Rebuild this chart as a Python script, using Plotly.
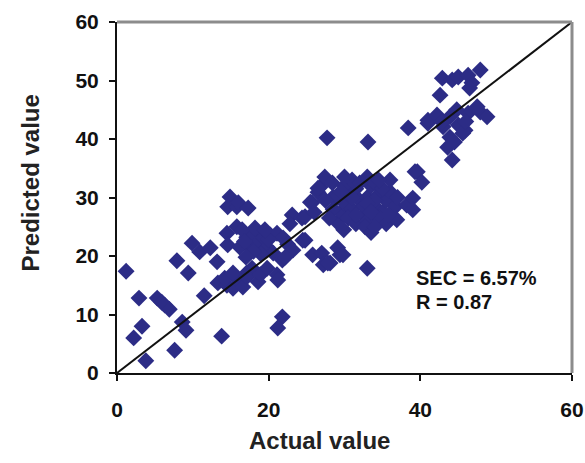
import plotly.graph_objects as go

# Actual (x) and predicted (y) values
actual = [
    1.2, 2.9, 3.3, 2.2, 3.8, 5.3, 5.9, 6.3, 6.9, 7.9, 9.4, 7.6, 8.6, 9.1, 11.5, 13.8,
    9.9, 10.9, 12.3, 13.2, 13.3, 14.5, 15.3, 16.0, 16.6, 17.1, 17.8, 14.2, 15.3, 17.1,
    18.6, 18.9, 19.8, 21.1, 21.2, 21.8, 21.2,
    14.9, 14.6, 15.8, 16.0, 17.3, 14.5, 15.8, 14.6, 16.2, 17.1, 17.9, 17.5, 18.5, 19.3,
    20.2, 21.1, 21.9, 19.8, 20.6, 21.8, 16.5, 18.2, 19.0, 18.0, 16.8, 20.0, 22.5, 19.5, 17.0,
    23.1, 24.4, 25.7, 26.5, 24.8, 23.2, 25.8, 27.0, 27.2, 28.1, 29.1, 29.4, 26.8, 28.5,
    27.8, 29.8, 33.0, 22.2, 24.5, 25.5, 24.8, 22.8, 26.0, 27.4, 26.5, 28.4, 27.7, 33.1,
    29.0, 29.5, 30.0, 30.5, 31.0, 31.5, 32.0, 32.5, 33.0, 33.5, 34.0, 34.5, 35.0, 35.5,
    36.0, 30.0, 31.0, 32.0, 33.0, 34.0, 29.0, 28.5, 30.5, 31.5, 33.0, 34.5, 35.5, 32.7,
    36.7, 38.2, 39.0, 39.0, 36.9, 33.5, 34.0, 31.0, 32.5, 34.0, 35.0, 36.0, 29.5, 30.0,
    33.0, 35.8, 37.0, 28.0, 27.5, 33.5, 31.5, 29.9, 34.5,
    38.4, 41.0, 39.6, 40.2, 39.3, 42.9, 44.2, 45.0, 46.3, 46.8, 47.9, 46.5, 42.6, 41.0,
    42.2, 43.9, 46.3, 47.9, 48.8, 45.9, 43.0, 43.9, 43.6, 44.2, 42.9, 45.0, 45.6, 44.5,
    47.5, 44.8, 46.0,
]
predicted = [
    17.4, 12.8, 8.0, 6.0, 2.1, 12.8, 12.1, 11.6, 10.9, 19.2, 17.1, 3.9, 8.7, 7.3, 13.2, 6.3,
    22.2, 20.7, 21.4, 19.0, 15.4, 15.0, 14.5, 15.9, 14.7, 17.1, 17.9, 16.2, 17.1, 16.4,
    15.6, 16.8, 17.9, 16.8, 15.9, 9.6, 7.7,
    30.1, 28.4, 28.4, 29.1, 28.2, 23.9, 25.0, 21.9, 21.5, 23.2, 23.9, 21.5, 22.2, 23.2,
    23.6, 23.9, 23.1, 21.5, 20.5, 19.3, 24.5, 24.8, 20.3, 20.8, 22.5, 22.8, 22.0, 24.5, 19.8,
    27.0, 26.5, 29.1, 30.9, 22.7, 21.0, 20.2, 20.5, 18.5, 18.8, 21.4, 20.2, 31.8, 30.1,
    18.8, 20.2, 17.9, 19.8, 22.7, 29.2, 26.7, 25.5, 27.5, 33.5, 31.6, 32.5, 40.2, 39.5,
    25.8, 27.5, 29.0, 30.5, 28.0, 31.5, 29.5, 27.0, 30.0, 32.0, 28.5, 30.5, 27.5, 29.5,
    31.0, 32.0, 33.0, 32.5, 33.5, 32.5, 30.0, 28.0, 26.5, 25.5, 26.0, 26.5, 25.5, 25.0,
    28.4, 28.7, 29.9, 27.9, 26.2, 24.0, 25.0, 30.0, 28.5, 29.5, 31.5, 33.0, 31.0, 33.5,
    29.0, 27.0, 30.0, 26.5, 29.5, 27.5, 27.0, 24.5, 33.0,
    41.9, 42.7, 34.4, 32.6, 34.4, 50.4, 50.1, 50.6, 50.9, 49.6, 51.8, 48.7, 47.5, 43.2,
    44.1, 43.8, 44.4, 44.6, 43.8, 41.5, 42.1, 40.3, 38.6, 36.4, 42.9, 42.4, 41.0, 39.5,
    45.5, 45.0, 43.0,
]
line_x = [0, 60]
line_y = [0, 60]
tick_vals_x = [0, 20, 40, 60]
tick_vals_y = [0, 10, 20, 30, 40, 50, 60]
stats_text = ["SEC = 6.57%", "R = 0.87"]
x_title = "Actual value"
y_title = "Predicted value"

fig = go.Figure()
fig.add_trace(go.Scatter(
    x=actual, y=predicted, mode="markers",
    marker=dict(symbol="diamond", size=13, color="#2C2C86", line=dict(width=0)),
    showlegend=False,
))
fig.add_trace(go.Scatter(
    x=line_x, y=line_y, mode="lines",
    line=dict(color="#111111", width=2), showlegend=False,
))

font_b = "Liberation Sans, Arial, sans-serif"
fig.update_layout(
    width=585, height=463,
    margin=dict(l=117, r=13, t=22, b=90, autoexpand=False),
    paper_bgcolor="white", plot_bgcolor="white",
    font=dict(family=font_b, color="#111111"),
    xaxis=dict(
        range=[0, 60], tickvals=tick_vals_x, showgrid=False, zeroline=False,
        showline=True, linecolor="#111111", linewidth=2, automargin=False,
        ticks="outside", ticklen=6, tickwidth=2, tickcolor="#111111",
        tickfont=dict(size=21, family=font_b, weight="bold"),
        ticklabelstandoff=11,
    ),
    yaxis=dict(
        range=[0, 60], tickvals=tick_vals_y, showgrid=False, zeroline=False,
        showline=True, linecolor="#111111", linewidth=2, automargin=False,
        ticks="outside", ticklen=6, tickwidth=2, tickcolor="#111111",
        tickfont=dict(size=21, family=font_b, weight="bold"),
        ticklabelstandoff=6,
    ),
    shapes=[
        dict(type="line", xref="paper", yref="paper", x0=0, x1=1, y0=1, y1=1,
             line=dict(color="#8C8C8C", width=3)),
        dict(type="line", xref="paper", yref="paper", x0=1, x1=1, y0=0, y1=1,
             line=dict(color="#8C8C8C", width=3)),
    ],
    annotations=[
        dict(x=39.1, y=16.3, xref="x", yref="y", text="<b>%s</b>" % stats_text[0],
             showarrow=False, xanchor="left", font=dict(size=20, color="#111111")),
        dict(x=39.1, y=12.1, xref="x", yref="y", text="<b>%s</b>" % stats_text[1],
             showarrow=False, xanchor="left", font=dict(size=20, color="#111111")),
        dict(x=0.446, y=-0.191, xref="paper", yref="paper", text="<b>%s</b>" % x_title,
             showarrow=False, xanchor="center", yanchor="middle",
             font=dict(size=24, color="#222222")),
        dict(x=-0.191, y=0.54, xref="paper", yref="paper", text="<b>%s</b>" % y_title,
             showarrow=False, xanchor="center", yanchor="middle", textangle=-90,
             font=dict(size=24, color="#222222")),
    ],
)

fig.write_html("out.html")
